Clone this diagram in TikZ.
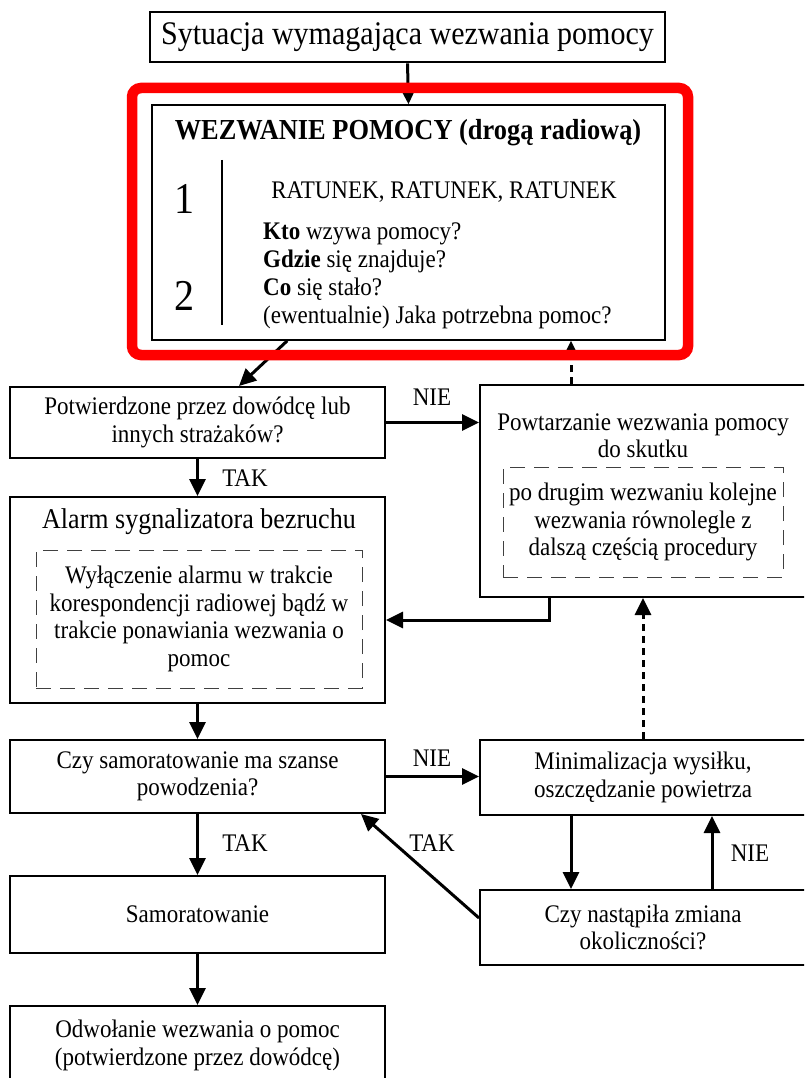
\documentclass[tikz,border=0pt]{standalone}
\usepackage{fontspec}
\setmainfont{Liberation Serif}[FakeStretch=0.91]
\usetikzlibrary{arrows.meta,calc}
\begin{document}
\begin{tikzpicture}[x=1pt,y=-1pt,
  box/.style={draw, line width=2pt, inner sep=0pt},
  dbox/.style={draw=black!75, line width=1pt, dash pattern=on 15pt off 9pt, inner sep=0pt},
  txt/.style={font=\fontsize{25.3}{27.5}\selectfont, align=center, inner sep=0pt},
  arr/.style={line width=3pt, -{Triangle[length=17pt,width=16pt]}},
  darr/.style={arr, dash pattern=on 7pt off 5pt},
  lbl/.style={font=\fontsize{25.3}{27.5}\selectfont, inner sep=0pt}]
\useasboundingbox (0,0) rectangle (804,1078);
\clip (0,0) rectangle (804,1078);
\fill[white] (0,0) rectangle (804,1078);

% top box
\node[box, line width=2.8pt, minimum width=515pt, minimum height=50pt, font=\fontsize{33}{36}\selectfont] (top) at (407.5,37) {Sytuacja wymagająca wezwania pomocy};

% inner box of the call procedure
\node[box, line width=1.5pt, minimum width=513pt, minimum height=235pt] (inner) at (408.5,222.5) {};
\node[font=\bfseries\fontsize{29}{32}\selectfont, inner sep=0pt] (title) at (408,133) {WEZWANIE POMOCY (drogą radiową)};
\draw[line width=1.5pt] (222,160) -- (222,325);
\node[font=\fontsize{44}{44}\selectfont, inner sep=0pt] (one) at (185,199) {1};
\node[font=\fontsize{44}{44}\selectfont, inner sep=0pt] (two) at (185,296) {2};
\node[lbl] (rat) at (444,192) {RATUNEK, RATUNEK, RATUNEK};
\node[font=\fontsize{25.3}{28}\selectfont, align=left, inner sep=0pt, anchor=west] (qs) at (263,276) {\textbf{Kto} wzywa pomocy?\\\textbf{Gdzie} się znajduje?\\\textbf{Co} się stało?\\(ewentualnie) Jaka potrzebna pomoc?};

% left column
\node[box, txt, minimum width=375pt, minimum height=71pt] (pot) at (197.5,422.5) {Potwierdzone przez dowódcę lub\\innych strażaków?};
\node[box, minimum width=375pt, minimum height=206pt] (alarm) at (197.5,600) {};
\node[font=\fontsize{28.6}{30}\selectfont, inner sep=0pt] (alarmt) at (199,522) {Alarm sygnalizatora bezruchu};
\node[dbox, txt, minimum width=326pt, minimum height=138pt] (alarmd) at (199,619) {Wyłączenie alarmu w trakcie\\korespondencji radiowej bądź w\\trakcie ponawiania wezwania o\\pomoc};
\node[box, txt, minimum width=375pt, minimum height=73pt] (czy) at (197.5,776.5) {Czy samoratowanie ma szanse\\powodzenia?};
\node[box, txt, minimum width=375pt, minimum height=77pt] (samo) at (197.5,914.5) {Samoratowanie};
\node[box, txt, minimum width=375pt, minimum height=79pt] (odw) at (197.5,1045.5) {Odwołanie wezwania o pomoc\\(potwierdzone przez dowódcę)};

% right column
\node[box, minimum width=326pt, minimum height=212pt] (pow) at (643,491) {};
\node[txt] (powt) at (643,435.5) {Powtarzanie wezwania pomocy\\do skutku};
\node[dbox, txt, minimum width=280pt, minimum height=110pt] (powd) at (643,522) {po drugim wezwaniu kolejne\\wezwania równolegle z\\dalszą częścią procedury};
\node[box, txt, minimum width=326pt, minimum height=75pt] (minim) at (643,777.5) {Minimalizacja wysiłku,\\oszczędzanie powietrza};
\node[box, txt, minimum width=326pt, minimum height=75pt] (nast) at (643,927.5) {Czy nastąpiła zmiana\\okoliczności?};

% helper coordinates
\coordinate (c1) at ($(inner.south west)+(136,0)$);
\coordinate (c2) at ($(pot.north west)+(230,0)$);
\coordinate (c3) at ($(pow.north west)+(92,0)$);
\coordinate (c4) at ($(pow.south west)+(70,0)$);
\coordinate (c5) at ($(alarm.east)+(0,20)$);
\coordinate (c6) at ($(minim.south west)+(92,0)$);
\coordinate (c7) at ($(nast.north west)+(233,0)$);
\coordinate (c8) at ($(nast.west)+(0,-9.5)$);
\coordinate (c9) at ($(czy.south east)+(-25,0)$);

% connectors
\draw[arr] (top.south) -- (inner.north);
\draw[arr] (c1) -- (c2);
\draw[arr] (pot.east) -- (pot.east -| pow.west);
\draw[darr] (c3) -- (c3 |- inner.south);
\draw[arr] (pot.south) -- (alarm.north);
\draw[arr] (c4) |- (c5);
\draw[arr] (alarm.south) -- (czy.north);
\draw[darr] (minim.north) -- (minim.north |- pow.south);
\draw[arr] (czy.east) -- (czy.east -| minim.west);
\draw[arr] (czy.south) -- (samo.north);
\draw[arr] (samo.south) -- (odw.north);
\draw[arr] (c6) -- (c6 |- nast.north);
\draw[arr] (c7) -- (c7 |- minim.south);
\draw[arr] (c8) -- (c9);

% labels
\node[lbl] (nie1) at (432,397) {NIE};
\node[lbl] (tak1) at (245,478) {TAK};
\node[lbl] (nie2) at (432,758) {NIE};
\node[lbl] (tak2) at (245,843) {TAK};
\node[lbl] (tak3) at (432,843) {TAK};
\node[lbl] (nie3) at (750,853) {NIE};

% red frame
\node[draw=red, line width=10.5pt, rounded corners=9pt, inner sep=0pt, minimum width=556pt, minimum height=267pt] (frame) at (410,221.5) {};
\end{tikzpicture}
\end{document}
